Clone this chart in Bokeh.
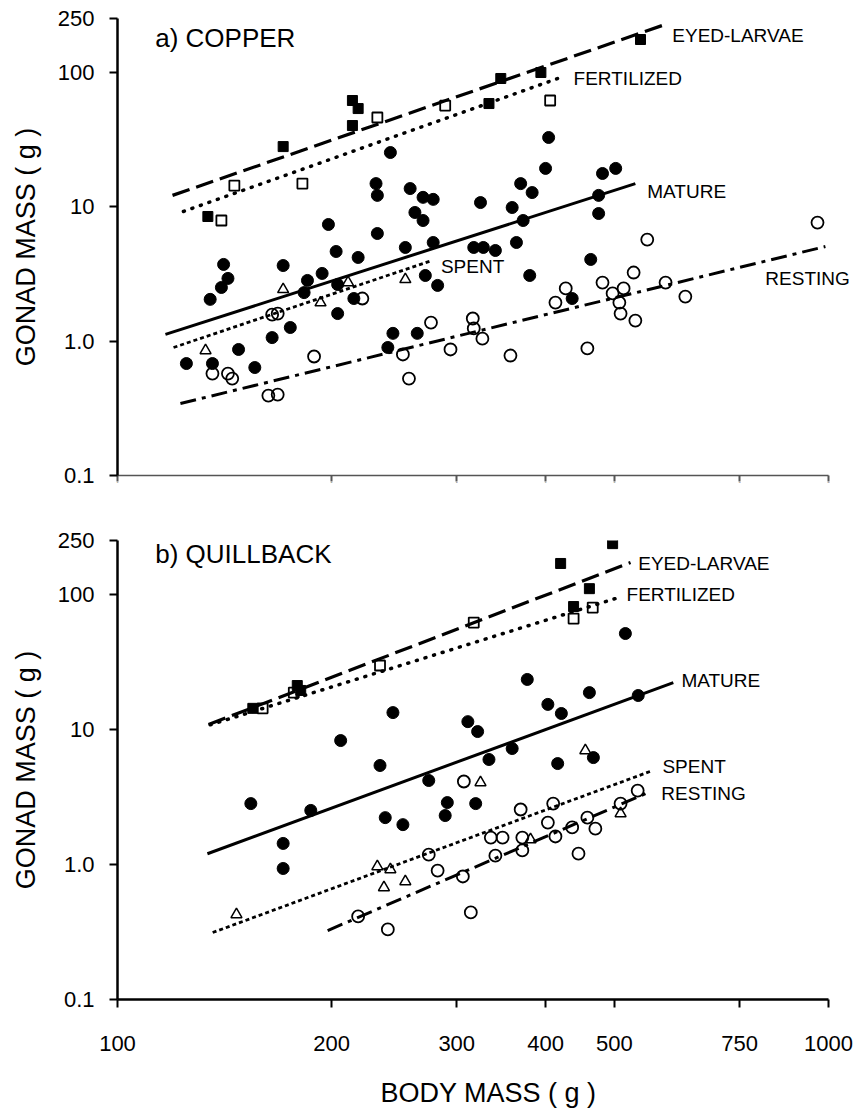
from bokeh.plotting import figure
from bokeh.layouts import column
from bokeh.models import Range1d, FixedTicker, CustomJSTickFormatter, Label
from bokeh.embed import file_html
from bokeh.resources import INLINE

FONT = "Liberation Sans"

x_ticks = [100, 200, 300, 400, 500, 750, 1000]
x_tick_labels = ["100", "200", "300", "400", "500", "750", "1000"]
y_ticks = [0.1, 1, 10, 100, 250]
y_tick_labels = ["0.1", "1.0", "10", "100", "250"]

# ---------------- a) COPPER ----------------
cu_eyed_x = [134, 171, 214, 218, 214, 333, 346, 394, 544]
cu_eyed_y = [8.43, 27.9, 61.4, 53.5, 40.0, 58.3, 89.5, 99.2, 174.5]
cu_fert_x = [140, 146, 182, 232, 289, 406]
cu_fert_y = [7.87, 14.3, 14.8, 45.9, 56.3, 61.4]
cu_mature_x = [242, 231, 232, 258, 269, 262, 269, 198, 232, 203, 218, 254, 404, 400, 481, 502,
               369, 383, 324, 359, 475, 475, 372, 278, 278, 317, 327, 340, 364, 141, 143, 140,
               135, 171, 185, 194, 183, 204, 204, 271, 175, 165, 148, 156, 125, 136, 244, 264,
               240, 215, 463, 380, 282, 436]
cu_mature_y = [25.2, 14.8, 12.1, 13.6, 11.7, 9.03, 7.87, 7.35, 6.30, 4.63, 4.18, 4.96, 32.6, 19.2,
               17.6, 19.2, 14.8, 12.7, 10.7, 9.83, 12.1, 8.87, 7.87, 11.3, 5.40, 4.96, 4.96, 4.71,
               5.40, 3.71, 2.92, 2.50, 2.04, 3.64, 2.82, 3.18, 2.29, 1.60, 2.63, 3.07, 1.26, 1.06,
               0.865, 0.635, 0.680, 0.680, 1.14, 1.14, 0.895, 2.07, 4.04, 3.07, 2.59, 2.07]
cu_spent_x = [171, 193, 211, 254, 133]
cu_spent_y = [2.42, 1.93, 2.72, 2.87, 0.850]
cu_rest_x = [136, 143, 145, 189, 163, 168, 252, 257, 276, 165, 168, 221, 532, 481, 427, 413, 515,
             497, 508, 510, 535, 590, 629, 316, 317, 326, 357, 458, 294, 965, 556]
cu_rest_y = [0.573, 0.573, 0.526, 0.767, 0.393, 0.400, 0.794, 0.526, 1.37, 1.57, 1.60, 2.07, 3.23,
             2.72, 2.46, 1.93, 2.46, 2.26, 1.93, 1.60, 1.42, 2.72, 2.14, 1.47, 1.24, 1.04, 0.780,
             0.880, 0.865, 7.60, 5.68]
# regression lines (end points)
cu_eyed_fit_x = [119.5, 584]
cu_eyed_fit_y = [12.1, 222]
cu_fert_fit_x = [123.8, 420]
cu_fert_fit_y = [9.18, 91]
cu_mature_fit_x = [116.8, 535]
cu_mature_fit_y = [1.12, 14.8]
cu_spent_fit_x = [119.9, 277]
cu_spent_fit_y = [0.895, 3.97]
cu_rest_fit_x = [122.6, 990]
cu_rest_fit_y = [0.343, 5.04]

# ---------------- b) QUILLBACK ----------------
qb_eyed_x = [155, 179, 181, 497, 420, 461, 438]
qb_eyed_y = [14.3, 21.1, 19.4, 237, 169, 110, 81.1]
qb_fert_x = [160, 177, 234, 317, 466, 438]
qb_fert_y = [14.3, 18.7, 29.7, 61.7, 79.7, 66.1]
qb_mature_x = [518, 377, 461, 403, 421, 311, 321, 540, 359, 333, 416, 467, 244, 206, 234, 154,
               187, 171, 171, 238, 252, 274, 291, 289, 319]
qb_mature_y = [51.2, 23.4, 18.7, 15.3, 13.1, 11.4, 9.63, 17.8, 7.21, 5.98, 5.58, 6.18, 13.3, 8.26,
               5.40, 2.82, 2.51, 1.43, 0.933, 2.22, 1.97, 4.18, 2.87, 2.30, 2.82]
qb_spent_x = [147, 232, 242, 237, 254, 324, 455, 510, 381]
qb_spent_y = [0.426, 0.965, 0.917, 0.675, 0.747, 4.04, 6.97, 2.38, 1.53]
qb_rest_x = [218, 240, 274, 307, 369, 410, 539, 510, 458, 470, 403, 413, 436, 335, 348, 371, 371,
             340, 306, 282, 445, 314]
qb_rest_y = [0.412, 0.330, 1.18, 4.11, 2.55, 2.82, 3.52, 2.82, 2.22, 1.84, 2.04, 1.61, 1.88, 1.58,
             1.58, 1.58, 1.27, 1.16, 0.814, 0.901, 1.20, 0.441]
qb_eyed_fit_x = [134.3, 526.7]
qb_eyed_fit_y = [10.85, 171.7]
qb_fert_fit_x = [135, 506.6]
qb_fert_fit_y = [10.8, 94.5]
qb_mature_fit_x = [133.8, 605]
qb_mature_fit_y = [1.20, 22.2]
qb_spent_fit_x = [136.1, 565.5]
qb_spent_fit_y = [0.313, 4.95]
qb_rest_fit_x = [197.5, 558]
qb_rest_fit_y = [0.324, 3.41]

stage_names = ["EYED-LARVAE", "FERTILIZED", "MATURE", "SPENT", "RESTING"]

tick_js = """
for (let i = 0; i < tv.length; i++) {
  if (Math.abs(Math.log10(tick) - Math.log10(tv[i])) < 1e-6) { return tl[i]; }
}
return '';
"""

# the frame runs on past the 1000 tick so the right-hand labels are not clipped;
# the x-axis line itself is bounded to 100..1000
X_START = 100
X_END = 1000 * 10 ** (31 / 711)


def make_panel(height, top, bottom, show_x_labels):
    p = figure(width=859, height=height, x_axis_type="log", y_axis_type="log",
               x_range=Range1d(X_START, X_END), y_range=Range1d(0.1, 250),
               output_backend="svg", toolbar_location=None,
               min_border_left=117, min_border_right=0,
               min_border_top=top, min_border_bottom=bottom)
    p.outline_line_color = None
    p.xgrid.visible = False
    p.ygrid.visible = False
    p.background_fill_color = "white"
    p.border_fill_color = "white"

    ya = p.yaxis[0]
    ya.ticker = FixedTicker(ticks=y_ticks, minor_ticks=[])
    ya.formatter = CustomJSTickFormatter(args=dict(tv=y_ticks, tl=y_tick_labels), code=tick_js)
    xa = p.xaxis[0]
    xa.ticker = FixedTicker(ticks=x_ticks, minor_ticks=[])
    xa.formatter = CustomJSTickFormatter(args=dict(tv=x_ticks, tl=x_tick_labels), code=tick_js)
    xa.bounds = (x_ticks[0], x_ticks[-1])
    for ax in (xa, ya):
        ax.axis_line_width = 2.5
        ax.axis_line_color = "black"
        ax.major_tick_line_width = 2
        ax.major_tick_line_color = "black"
        ax.major_tick_out = 8
        ax.major_tick_in = 0
        ax.minor_tick_line_color = None
        ax.major_label_text_font = FONT
        ax.major_label_text_font_size = "22px"
        ax.major_label_text_color = "black"
        ax.axis_label_text_color = "black"
    ya.major_label_standoff = 15
    ya.axis_label = "GONAD MASS ( g )"
    ya.axis_label_text_font = FONT
    ya.axis_label_text_font_size = "27px"
    ya.axis_label_text_font_style = "normal"
    ya.axis_label_standoff = 14
    if show_x_labels:
        xa.major_label_standoff = 28
        xa.axis_label = "BODY MASS ( g )"
        xa.axis_label_text_font = FONT
        xa.axis_label_text_font_size = "27px"
        xa.axis_label_text_font_style = "normal"
        xa.axis_label_standoff = 24
    else:
        xa.major_label_text_font_size = "1px"
        xa.major_label_standoff = 0
        xa.axis_line_color = "#555555"
        xa.axis_line_width = 1.5
        xa.major_tick_line_color = "#555555"
        xa.major_tick_out = 6
    return p


def draw(p, eyed, fert, mature, spent, rest, fits, spent_dash):
    ex, ey = eyed
    fx, fy = fert
    mx, my = mature
    sx, sy = spent
    rx, ry = rest
    (efx, efy), (ffx, ffy), (mfx, mfy), (sfx, sfy), (rfx, rfy) = fits
    p.line(efx, efy, line_color="black", line_width=3.2, line_dash="18 7")
    p.line(ffx, ffy, line_color="black", line_width=3.5, line_dash="1 8", line_cap="round")
    p.line(mfx, mfy, line_color="black", line_width=3)
    p.line(sfx, sfy, line_color="black", line_width=2.8, line_dash=spent_dash)
    p.line(rfx, rfy, line_color="black", line_width=3, line_dash="16 6 4 6")

    p.scatter(mx, my, marker="circle", size=12, fill_color="black", line_color="black")
    p.scatter(rx, ry, marker="circle", size=12, fill_color=None, line_color="black", line_width=1.8)
    p.scatter(sx, sy, marker="triangle", size=11, fill_color=None, line_color="black", line_width=1.5)
    p.scatter(fx, fy, marker="square", size=10, fill_color=None, line_color="black", line_width=1.8)
    p.scatter(ex, ey, marker="square", size=10, fill_color="black", line_color="black")


def add_text(p, x, y, text, size="19px"):
    p.add_layout(Label(x=x, y=y, text=text, text_font=FONT, text_font_size=size,
                       text_baseline="middle", text_align="left", text_color="black"))


# panel a
p1 = make_panel(505, 18, 30, False)
draw(p1, (cu_eyed_x, cu_eyed_y), (cu_fert_x, cu_fert_y), (cu_mature_x, cu_mature_y),
     (cu_spent_x, cu_spent_y), (cu_rest_x, cu_rest_y),
     [(cu_eyed_fit_x, cu_eyed_fit_y), (cu_fert_fit_x, cu_fert_fit_y),
      (cu_mature_fit_x, cu_mature_fit_y), (cu_spent_fit_x, cu_spent_fit_y),
      (cu_rest_fit_x, cu_rest_fit_y)], "4 3")
add_text(p1, 113, 180, "a) COPPER", "26px")
add_text(p1, 603, 187, stage_names[0])
add_text(p1, 438, 89.5, stage_names[1])
add_text(p1, 556, 12.9, stage_names[2])
add_text(p1, 285, 3.58, stage_names[3])
add_text(p1, 815, 2.92, stage_names[4])

# panel b
p2 = make_panel(609, 35, 115, True)
draw(p2, (qb_eyed_x, qb_eyed_y), (qb_fert_x, qb_fert_y), (qb_mature_x, qb_mature_y),
     (qb_spent_x, qb_spent_y), (qb_rest_x, qb_rest_y),
     [(qb_eyed_fit_x, qb_eyed_fit_y), (qb_fert_fit_x, qb_fert_fit_y),
      (qb_mature_fit_x, qb_mature_fit_y), (qb_spent_fit_x, qb_spent_fit_y),
      (qb_rest_fit_x, qb_rest_fit_y)], "4 3")
add_text(p2, 113, 200, "b) QUILLBACK", "26px")
add_text(p2, 540, 168.7, stage_names[0])
add_text(p2, 520, 99.5, stage_names[1])
add_text(p2, 621, 23.0, stage_names[2])
add_text(p2, 584, 5.30, stage_names[3])
add_text(p2, 582, 3.35, stage_names[4])

layout = column(p1, p2, spacing=0)
open("out.html", "w").write(file_html(layout, INLINE))
